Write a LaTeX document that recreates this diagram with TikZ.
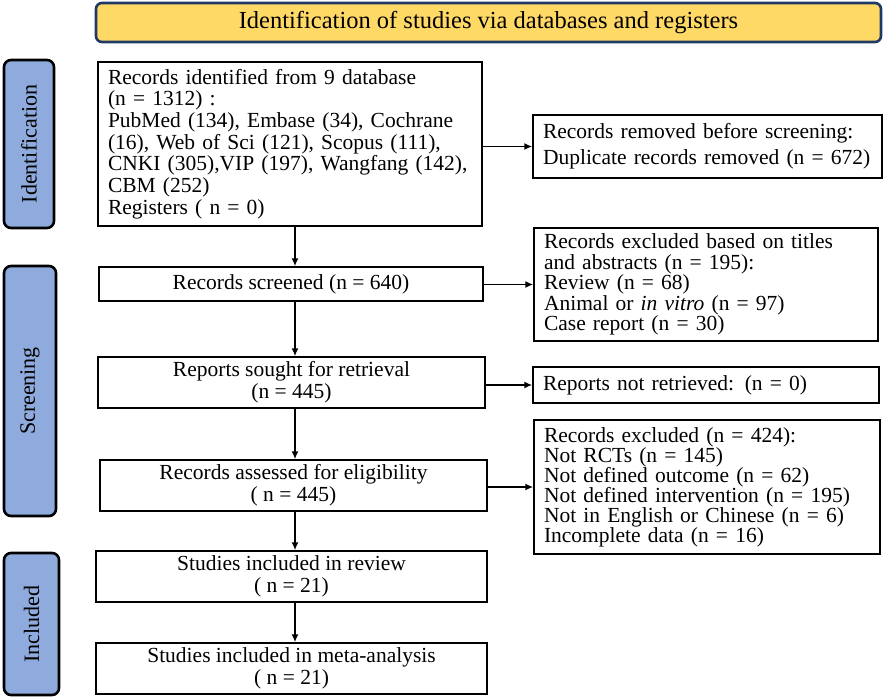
\documentclass[tikz,border=0pt]{standalone}
\usepackage{fontspec}
\setmainfont{Liberation Serif}
\usetikzlibrary{arrows.meta,positioning}
\definecolor{stageblue}{HTML}{8FAADC}
\definecolor{headyellow}{HTML}{FFD966}
\definecolor{headnavy}{HTML}{1F3864}
\tikzset{font=\fontsize{21.5}{21.7}\selectfont}
\tikzset{box/.style={draw, line width=1.5pt, inner sep=0pt, align=center},
  lbox/.style={draw, line width=1.5pt, inner xsep=10pt, inner ysep=0pt, align=left},
  stage/.style={draw, line width=2.6pt, fill=stageblue, rounded corners=7pt, inner sep=0pt},
  arr/.style={line width=1.5pt, -{Latex[length=8pt,width=7pt]}}}

\begin{document}
\begin{tikzpicture}[x=1pt,y=-1pt]
  \useasboundingbox (0,0) rectangle (886,698);

  % header and stages
  \node[draw=headnavy, line width=2.6pt, fill=headyellow, rounded corners=6pt,
    minimum width=785pt, minimum height=39pt, font=\fontsize{24.5}{26}\selectfont] (head) at (488.5,22.5)
    {Identification of studies via databases and registers};
  \node[stage, minimum width=50pt, minimum height=168pt] (sid) at (29,144) {};
  \node[rotate=90, font=\fontsize{22}{24}\selectfont] at (sid) {Identification};
  \node[stage, minimum width=52pt, minimum height=250pt] (sscr) at (30,391) {};
  \node[rotate=90, font=\fontsize{22}{24}\selectfont] at (sscr) {Screening};
  \node[stage, minimum width=55pt, minimum height=142pt] (sinc) at (31.5,624) {};
  \node[rotate=90, font=\fontsize{22}{24}\selectfont] at (sinc) {Included};

  % main column
  \node[lbox, text width=364pt, minimum height=164pt] (rec) at (290,144)
    {Records identified from 9 database\\(n = 1312) :\\PubMed (134), Embase (34), Cochrane\\(16), Web of Sci (121), Scopus (111),\\CNKI (305),VIP (197), Wangfang (142),\\CBM (252)\\Registers ( n = 0)};
  \node[box, minimum width=384pt, minimum height=34pt] (scr) at (291,284)
    {Records screened (n = 640)};
  \node[box, minimum width=387pt, minimum height=51pt] (sought) at (291.5,382.5)
    {Reports sought for retrieval\\(n = 445)};
  \node[box, minimum width=387pt, minimum height=51pt] (elig) at (293.5,485.5)
    {Records assessed for eligibility\\( n = 445)};
  \node[box, minimum width=391pt, minimum height=51pt] (incl) at (291.5,576.5)
    {Studies included in review\\( n = 21)};
  \node[box, minimum width=391pt, minimum height=51pt] (meta) at (291.5,668.5)
    {Studies included in meta-analysis\\( n = 21)};

  % side column
  \node[lbox, text width=329pt, minimum height=63pt, font=\fontsize{21.5}{26}\selectfont] (removed) at (707.5,146.5)
    {Records removed before screening:\\Duplicate records removed (n = 672)};
  \node[lbox, text width=324pt, minimum height=113pt, font=\fontsize{21.5}{20.5}\selectfont] (excla) at (706,284.5)
    {Records excluded based on titles\\and abstracts (n = 195):\\Review (n = 68)\\Animal or \textit{in vitro} (n = 97)\\Case report (n = 30)};
  \node[lbox, text width=326pt, minimum height=36pt] (notret) at (706,385)
    {Reports not retrieved: (n = 0)};
  \node[lbox, text width=326pt, minimum height=134pt, font=\fontsize{21.5}{20}\selectfont] (exclb) at (707,487)
    {Records excluded (n = 424):\\Not RCTs (n = 145)\\Not defined outcome (n = 62)\\Not defined intervention (n = 195)\\Not in English or Chinese (n = 6)\\Incomplete data (n = 16)};

  % connectors
  \coordinate (spine) at (295,0);
  \draw[arr] (rec.south -| spine) -- (scr.north -| spine);
  \draw[arr] (scr.south -| spine) -- (sought.north -| spine);
  \draw[arr] (sought.south -| spine) -- (elig.north -| spine);
  \draw[arr] (elig.south -| spine) -- (incl.north -| spine);
  \draw[arr] (incl.south -| spine) -- (meta.north -| spine);
  \draw[arr] (rec.east |- removed.west) -- (removed.west);
  \draw[arr] (scr.east |- excla.west) -- (excla.west);
  \draw[arr] (sought.east |- notret.west) -- (notret.west);
  \draw[arr] (elig.east |- exclb.west) -- (exclb.west);
\end{tikzpicture}
\end{document}
